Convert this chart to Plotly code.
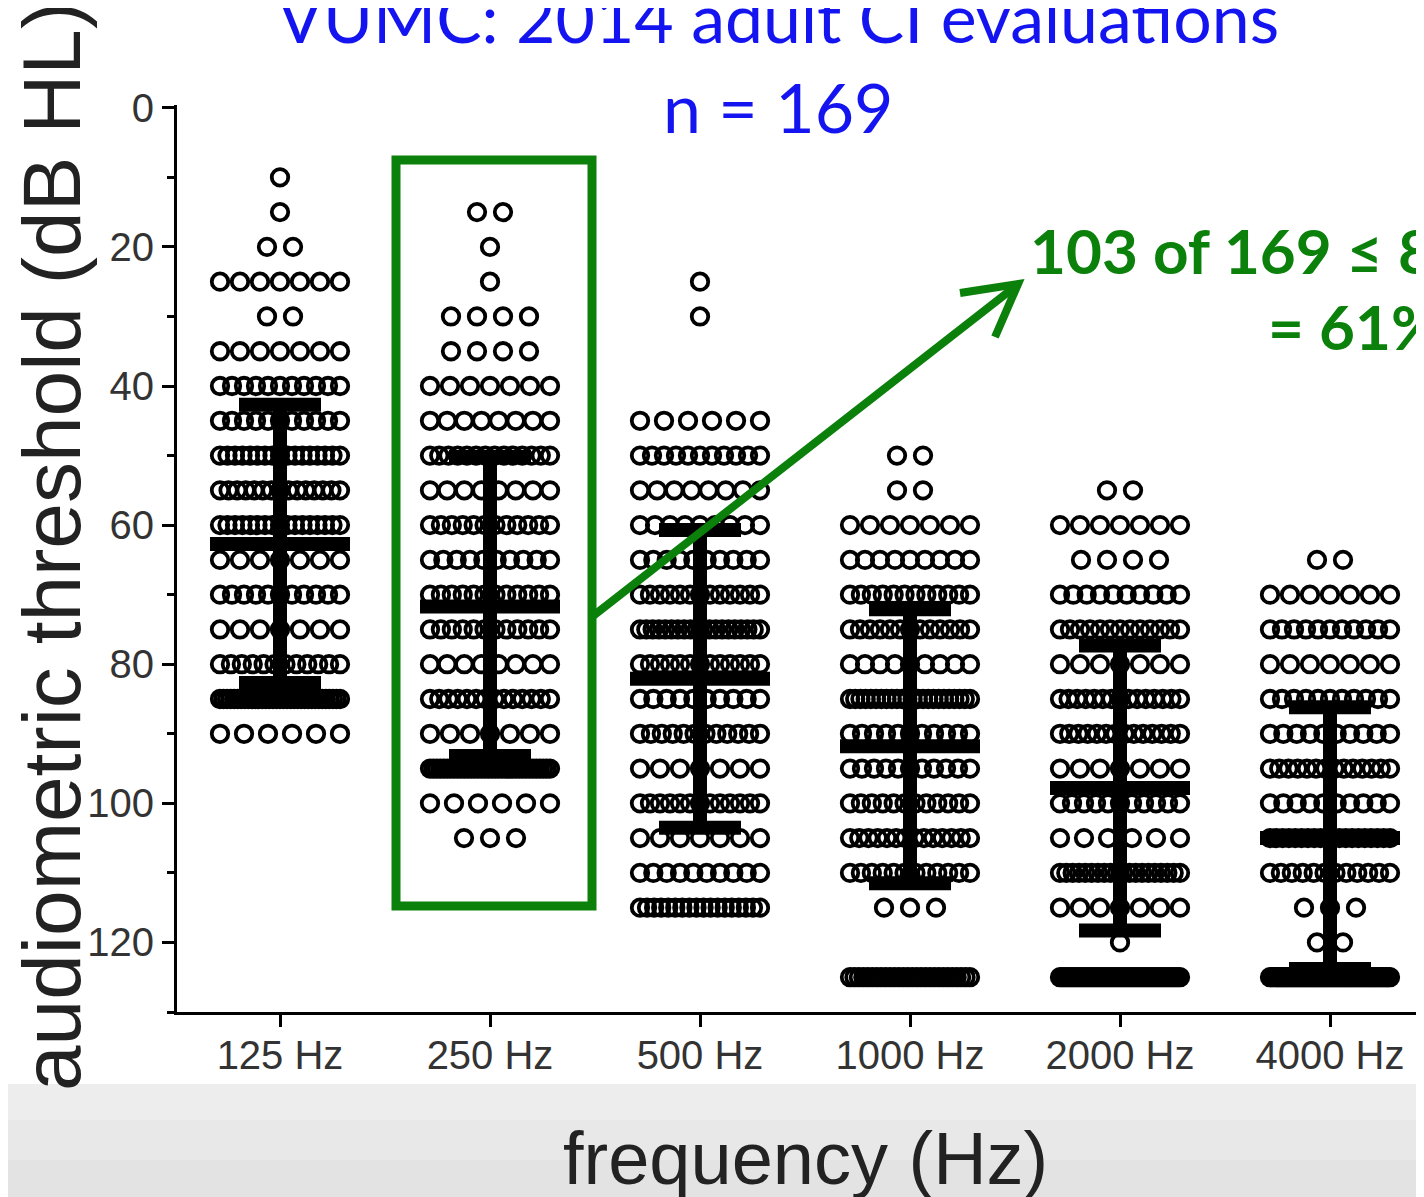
import numpy as np
import plotly.graph_objects as go

# ---------------- data ----------------
freq_labels = ["125 Hz", "250 Hz", "500 Hz", "1000 Hz", "2000 Hz", "4000 Hz"]

levels_125 = [10, 15, 20, 25, 30, 35, 40, 45, 50, 55, 60, 65, 70, 75, 80, 85, 90]
counts_125 = [1, 1, 2, 7, 2, 7, 11, 11, 17, 15, 17, 7, 11, 7, 12, 35, 6]

levels_250 = [15, 20, 25, 30, 35, 40, 45, 50, 55, 60, 65, 70, 75, 80, 85, 90, 95, 100, 105]
counts_250 = [2, 1, 1, 4, 4, 7, 8, 14, 8, 12, 10, 12, 12, 8, 14, 7, 36, 6, 3]

levels_500 = [25, 30, 45, 50, 55, 60, 65, 70, 75, 80, 85, 90, 95, 100, 105, 110, 115]
counts_500 = [1, 1, 6, 11, 8, 9, 10, 13, 20, 13, 10, 12, 7, 13, 7, 10, 18]

levels_1000 = [50, 55, 60, 65, 70, 75, 80, 85, 90, 95, 100, 105, 110, 115, 125]
counts_1000 = [2, 2, 7, 9, 12, 13, 9, 24, 11, 11, 12, 14, 12, 3, 28]

levels_2000 = [55, 60, 65, 70, 75, 80, 85, 90, 95, 100, 105, 110, 115, 120, 125]
counts_2000 = [2, 7, 4, 10, 13, 7, 15, 14, 7, 11, 6, 20, 7, 1, 45]

levels_4000 = [65, 70, 75, 80, 85, 90, 95, 100, 105, 110, 115, 120, 125]
counts_4000 = [2, 7, 11, 7, 11, 10, 14, 10, 20, 12, 3, 2, 60]

means = [62.7, 71.7, 82.1, 91.8, 97.8, 105.0]
sds = [20.0, 21.5, 21.4, 19.7, 20.5, 18.8]

y_ticks = [0, 20, 40, 60, 80, 100, 120]

title_line1 = "VUMC: 2014 adult CI evaluations"
title_line2 = "n = 169"
callout_line1 = "103 of 169 \u2264 80"
callout_line2 = "= 61%"

# ---------------- layout geometry ----------------
OFF = 8                        # page margin of the html body
W, H = 1424 - OFF, 1197 - OFF  # figure fits the window without scrollbars
SL, ST, SBOT = 177, 105, 1012  # plot area on screen: left, top, bottom
SR = 1424                      # plot right edge on screen
L = SL - OFF
T = ST - OFF
B = H - (SBOT - OFF)
R = 0
PW = W - L - R
PH = H - T - B
CAT_PX = 210.0  # pixels per category


def px_x(p):
    return (p - SL) / PW


def px_y(p):
    return (SBOT - p) / PH


GREEN = "#0b800b"
BLUE = "#1414f0"

fig = go.Figure()

columns = [
    (levels_125, counts_125),
    (levels_250, counts_250),
    (levels_500, counts_500),
    (levels_1000, counts_1000),
    (levels_2000, counts_2000),
    (levels_4000, counts_4000),
]

for i, (lv, ct) in enumerate(columns):
    xs, ys = [], []
    for level, n in zip(lv, ct):
        step = min(26.0, 120.0 / (n - 1)) if n > 1 else 0.0
        offs = (np.arange(n) - (n - 1) / 2.0) * step / CAT_PX
        xs.extend((i + offs).tolist())
        ys.extend([level] * n)
    fig.add_trace(go.Scatter(
        x=xs, y=ys, mode="markers",
        marker=dict(symbol="circle-open", size=16.5, color="black",
                    line=dict(width=3.8, color="black")),
        showlegend=False, hoverinfo="skip"))

for i, (m, s) in enumerate(zip(means, sds)):
    mw = 70 / CAT_PX
    cw = 41 / CAT_PX
    fig.add_trace(go.Scatter(
        x=[i - mw, i + mw, None, i - cw, i + cw, None, i - cw, i + cw, None, i, i],
        y=[m, m, None, m - s, m - s, None, m + s, m + s, None, m - s, m + s],
        mode="lines", line=dict(color="black", width=14),
        showlegend=False, hoverinfo="skip"))

x0 = (SL - 280) / CAT_PX
x1 = (SL + PW - 280) / CAT_PX

shapes = []
for (ya, yb, col) in [(1084, 1120, "#ededed"), (1120, 1160, "#e8e8e8"), (1160, 1210, "#e3e3e3")]:
    shapes.append(dict(type="rect", xref="paper", yref="paper",
                       x0=px_x(0), x1=px_x(1440), y0=px_y(yb), y1=px_y(ya),
                       fillcolor=col, line=dict(width=0), layer="below"))
shapes.append(dict(type="rect", xref="paper", yref="paper",
                   x0=px_x(396), x1=px_x(592), y0=px_y(906), y1=px_y(160),
                   line=dict(color=GREEN, width=9), fillcolor="rgba(0,0,0,0)"))
shapes.append(dict(type="path", xref="paper", yref="paper",
                   path=f"M {px_x(593)},{px_y(616)} L {px_x(1016)},{px_y(286)}",
                   line=dict(color=GREEN, width=8)))
shapes.append(dict(type="path", xref="paper", yref="paper",
                   path=(f"M {px_x(960)},{px_y(293)} L {px_x(1018)},{px_y(284)} "
                         f"L {px_x(995)},{px_y(337)}"),
                   line=dict(color=GREEN, width=8)))

annotations = [
    dict(text=title_line1, xref="paper", yref="paper", x=px_x(778), y=px_y(16),
         xanchor="center", yanchor="middle", showarrow=False,
         font=dict(family="Lato", size=68, color=BLUE)),
    dict(text=title_line2, xref="paper", yref="paper", x=px_x(778), y=px_y(106),
         xanchor="center", yanchor="middle", showarrow=False,
         font=dict(family="Lato", size=68, color=BLUE)),
    dict(text=callout_line1, xref="paper", yref="paper", x=px_x(1028), y=px_y(250),
         xanchor="left", yanchor="middle", showarrow=False,
         font=dict(family="Lato", size=62, color=GREEN, weight="bold")),
    dict(text=callout_line2, xref="paper", yref="paper", x=px_x(1266), y=px_y(326),
         xanchor="left", yanchor="middle", showarrow=False,
         font=dict(family="Lato", size=62, color=GREEN, weight="bold")),
    dict(text="audiometric threshold (dB HL)", xref="paper", yref="paper",
         x=px_x(51), y=px_y(547), xanchor="center", yanchor="middle",
         textangle=-90, showarrow=False,
         font=dict(family="Liberation Sans", size=82, color="#222222")),
    dict(text="frequency (Hz)", xref="paper", yref="paper",
         x=px_x(805), y=px_y(1158), xanchor="center", yanchor="middle",
         showarrow=False,
         font=dict(family="Liberation Sans", size=74, color="#222222")),
]

fig.update_layout(
    width=W, height=H,
    margin=dict(l=L, r=R, t=T, b=B, pad=0),
    paper_bgcolor="white", plot_bgcolor="white",
    showlegend=False,
    shapes=shapes, annotations=annotations,
    xaxis=dict(range=[x0, x1], tickmode="array", tickvals=list(range(6)),
               ticktext=freq_labels, showgrid=False, zeroline=False,
               showline=True, linecolor="black", linewidth=3,
               ticks="outside", ticklen=12, tickwidth=3, tickcolor="black",
               ticklabelstandoff=-6,
               tickfont=dict(family="Liberation Sans", size=40, color="#333333")),
    yaxis=dict(range=[130, -0.4], tickmode="array", tickvals=y_ticks,
               showgrid=False, zeroline=False,
               showline=True, linecolor="black", linewidth=3,
               ticks="outside", ticklen=12, tickwidth=3, tickcolor="black",
               minor=dict(tickvals=[10, 30, 50, 70, 90, 110, 130], ticks="outside",
                          ticklen=7, tickwidth=3, tickcolor="black"),
               tickfont=dict(family="Liberation Sans", size=40, color="#333333")),
)

fig.write_html("out.html")
